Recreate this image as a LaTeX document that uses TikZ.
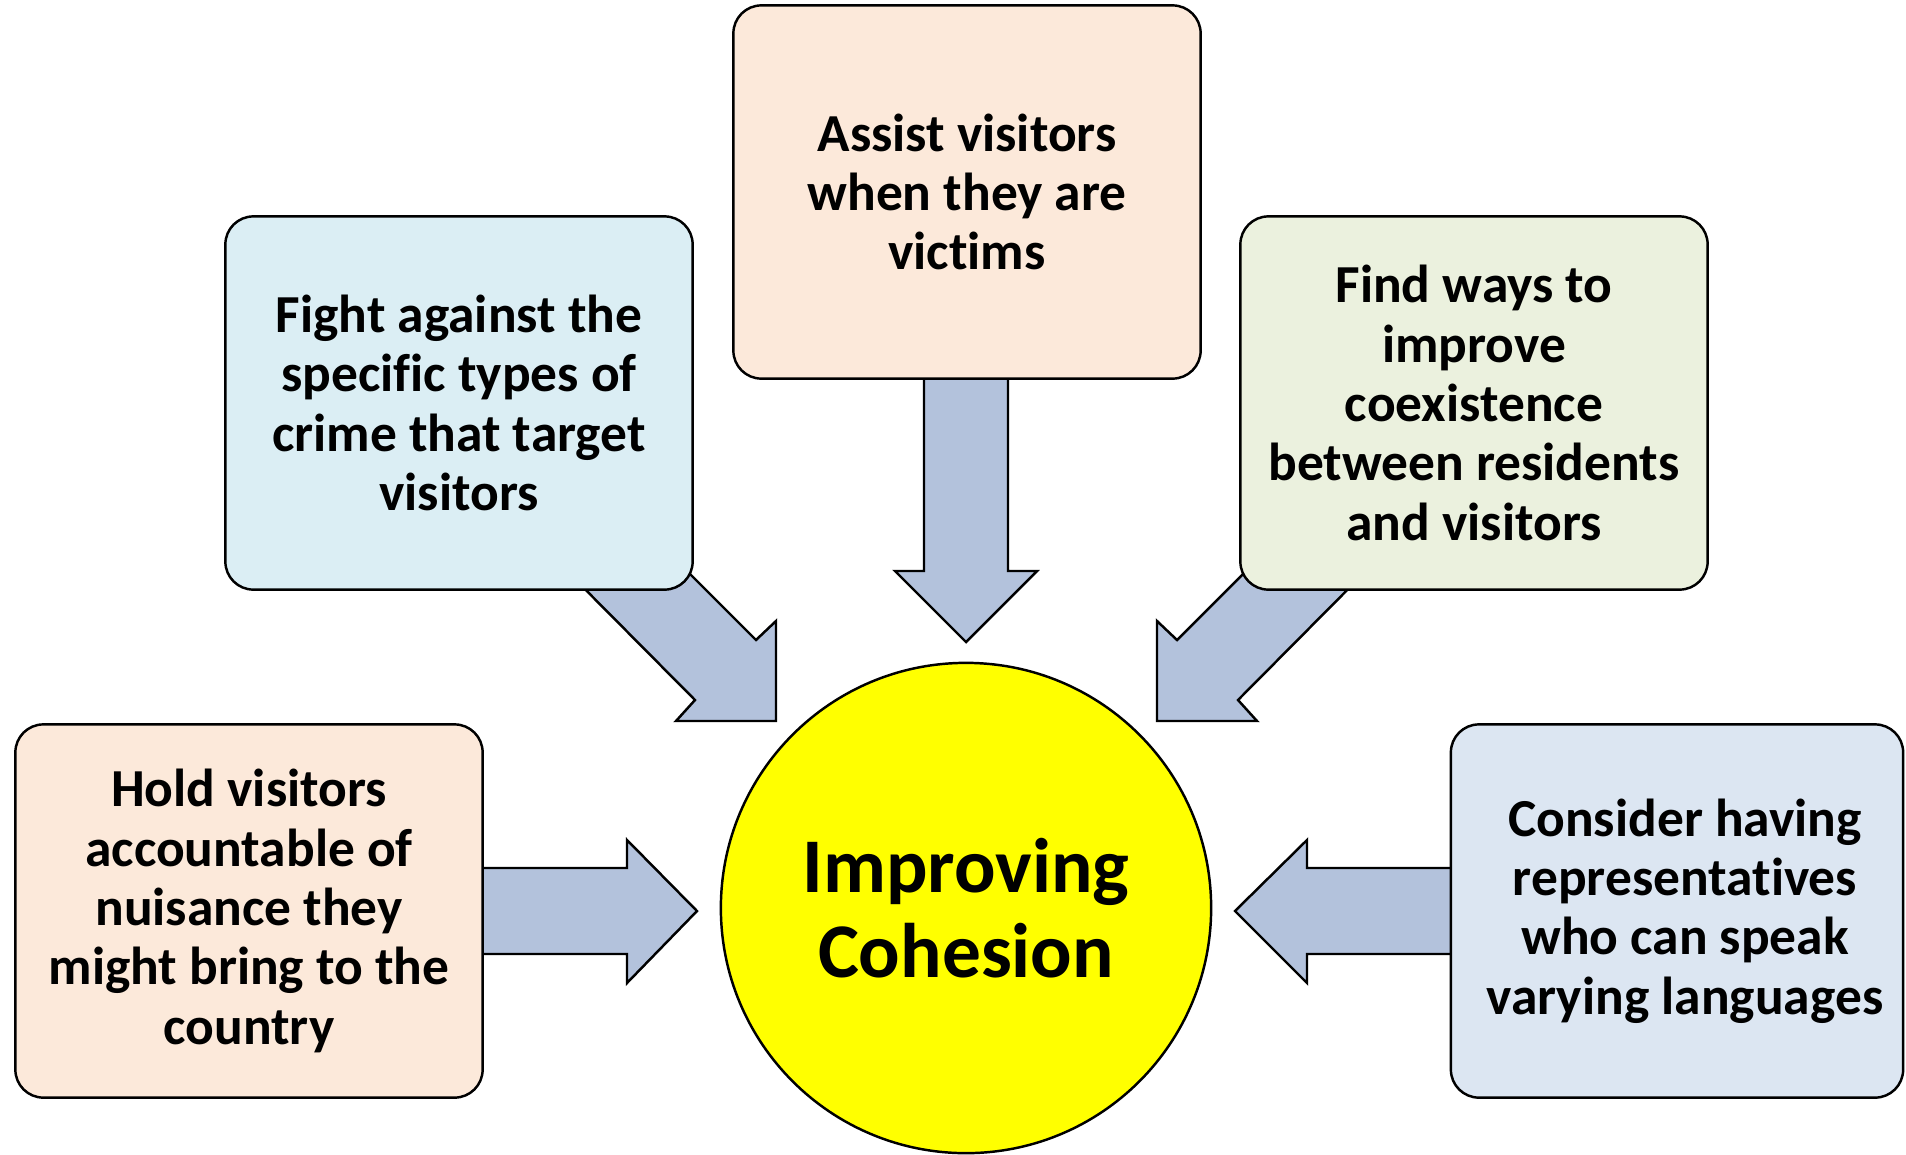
\documentclass[tikz,border=0pt]{standalone}
\usepackage{fontspec}
\setmainfont[Ligatures=NoCommon]{Carlito}
\definecolor{peach}{HTML}{FCE9DA}
\definecolor{lblue}{HTML}{DBEEF4}
\definecolor{lgreen}{HTML}{EBF1DE}
\definecolor{lsteel}{HTML}{DCE6F2}
\definecolor{arrowfill}{HTML}{B3C2DC}
\definecolor{hubyellow}{HTML}{FFFF00}
\begin{document}
\begin{tikzpicture}[x=0.01cm,y=-0.01cm,
  box/.style={draw=black, line width=0.7pt, rounded corners=0.28cm, minimum width=4.67cm, minimum height=3.73cm, align=center, font=\fontsize{15.2}{16.9}\selectfont\bfseries, inner sep=0pt},
  boxtext/.style={align=center, font=\fontsize{15.2}{16.9}\selectfont\bfseries, inner sep=0pt},
  blockarrow/.style={draw=black, line width=0.7pt, fill=arrowfill, line join=miter},
  hub/.style={circle, draw=black, line width=0.7pt, fill=hubyellow, minimum size=4.9cm, inner sep=0pt, align=center, font=\fontsize{22}{24}\selectfont\bfseries}
]
\useasboundingbox (0,0) rectangle (1906,1154);

% block arrows (behind boxes)
\draw[blockarrow] (924,360) -- (1008,360) -- (1008,571) -- (1037,571) -- (966,642) -- (895,571) -- (924,571) -- cycle;
\draw[blockarrow] (470,868) -- (627,868) -- (627,840) -- (697,911) -- (627,983) -- (627,954) -- (470,954) -- cycle;
\draw[blockarrow] (1462,868) -- (1307,868) -- (1307,840) -- (1235,911) -- (1307,983) -- (1307,954) -- (1462,954) -- cycle;
\draw[blockarrow] (620,504) -- (756,640) -- (776,621) -- (776,721) -- (676,721) -- (695,700) -- (560,564) -- cycle;
\draw[blockarrow] (1313,504) -- (1177,640) -- (1157,621) -- (1157,721) -- (1257,721) -- (1238,700) -- (1373,564) -- cycle;

% boxes
\node[box, fill=peach] (top) at (967,192) {Assist visitors\\when they are\\victims};
\node[box, fill=lblue] (ul) at (459,403) {Fight against the\\specific types of\\crime that target\\visitors};
\node[box, fill=lgreen] (ur) at (1474,403) {Find ways to\\improve\\coexistence\\between residents\\and visitors};
\node[box, fill=peach] (ll) at (249,911) {Hold visitors\\accountable of\\nuisance they\\might bring to the\\country};
\node[box, fill=lsteel, minimum width=4.52cm] (lr) at (1677,911) {};
\node[boxtext] (lrt) at (1685,911) {Consider having\\representatives\\who can speak\\varying languages};

% hub
\node[hub] (hub) at (966,908) {Improving\\Cohesion};
\end{tikzpicture}
\end{document}
